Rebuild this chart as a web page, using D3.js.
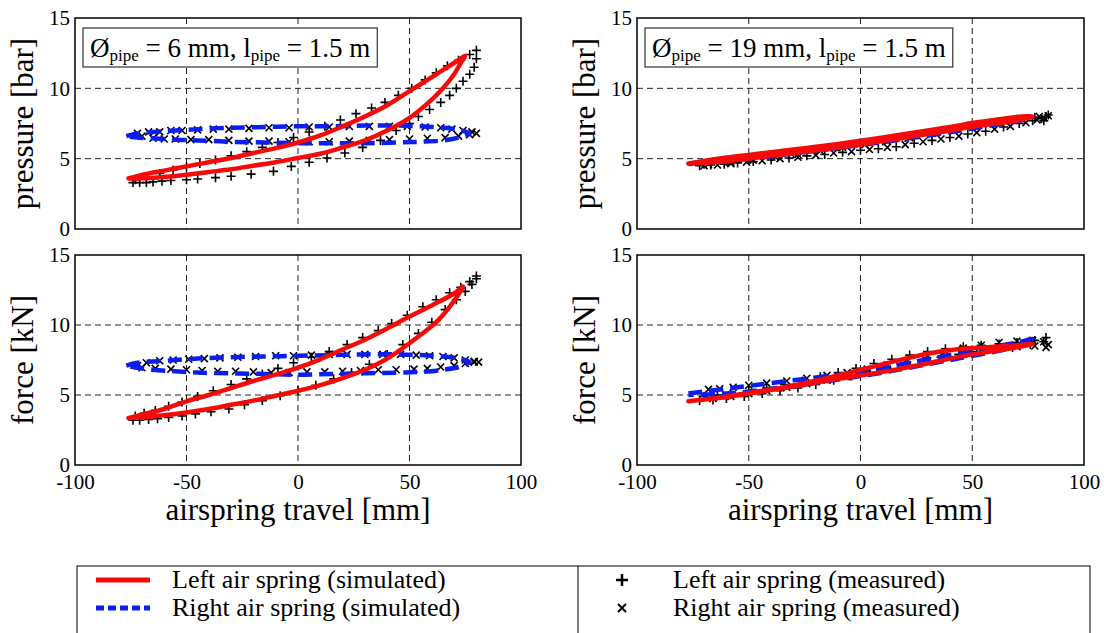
<!DOCTYPE html>
<html>
<head>
<meta charset="utf-8">
<script src="https://cdn.jsdelivr.net/npm/d3@7"></script>
<style>
  body { margin: 0; background: #fff; }
  svg { display: block; font-family: "Liberation Serif", "Times New Roman", serif; }
  svg text { font-family: "Liberation Serif", "Times New Roman", serif; }
</style>
</head>
<body>
<div id="chart"></div>
<script>
// axis ticks
const xTicks = [-100, -50, 0, 50, 100];
const yTicks = [0, 5, 10, 15];
const yLabels = ["pressure [bar]", "force [kN]"];
const pipeDiameters = ["6", "19"];
const legendLabels = ["Left air spring (simulated)", "Right air spring (simulated)",
                      "Left air spring (measured)", "Right air spring (measured)"];

// ---- 6 mm pipe, pressure ----
const p6LeftSimX = [-76,-70,-60,-50,-40,-30,-20,-10,0,10,20,30,40,50,60,70,75, 73,70,65,60,50,40,30,20,10,0,-10,-20,-30,-40,-50,-60,-70,-76];
const p6LeftSimY = [3.6,3.85,4.15,4.45,4.75,5.05,5.4,5.75,6.15,6.65,7.3,8.0,8.8,9.8,10.8,11.8,12.3, 11.8,11.0,10.0,9.2,7.9,7.0,6.3,5.8,5.35,5.05,4.75,4.5,4.25,4.05,3.85,3.7,3.6,3.6];
const p6RightSimX = [-77,-72,-65,-55,-45,-30,-15,0,15,30,45,55,65,72,77, 72,65,55,45,30,15,0,-15,-30,-45,-55,-65,-72,-77];
const p6RightSimY = [6.6,6.8,6.9,7.0,7.1,7.2,7.25,7.3,7.3,7.35,7.35,7.3,7.2,7.05,6.8, 6.5,6.3,6.2,6.15,6.1,6.1,6.1,6.15,6.2,6.3,6.35,6.45,6.5,6.6];
const p6LeftMeasX = [-73,-68,-62,-56,-50,-44,-37,-30,-23,-16,-9,-2,5,12,19,26,33,39,45,51,57,62,67,72,77,80,
                     -74,-71,-68,-65,-61,-57,-50,-45,-37,-30,-21,-11,-3,5,13,21,29,37,44,50,54,59,64,68,71,74,77,79,80];
const p6LeftMeasY = [3.5,3.7,3.95,4.2,4.4,4.65,4.9,5.2,5.5,5.8,6.15,6.5,6.9,7.3,7.75,8.2,8.6,9.0,9.5,10.0,10.6,11.1,11.6,12.0,12.4,12.7,
                     3.3,3.3,3.3,3.35,3.4,3.45,3.5,3.55,3.65,3.75,3.9,4.1,4.45,4.75,5.05,5.4,5.8,6.3,7.0,7.5,8.0,8.5,9.0,9.5,10.0,10.5,11.0,11.5,12.1];
const p6RightMeasX = [-72,-67,-62,-57,-52,-45,-38,-31,-22,-13,-4,5,14,23,32,41,49,57,64,69,74,78,80,
                      -70,-65,-60,-55,-48,-40,-31,-22,-13,-4,5,14,23,32,41,50,58,66,72,77];
const p6RightMeasY = [6.8,6.9,6.9,7.0,7.0,7.05,7.1,7.1,7.15,7.2,7.2,7.25,7.25,7.3,7.3,7.3,7.3,7.25,7.2,7.1,7.0,6.9,6.8,
                      6.6,6.45,6.4,6.4,6.35,6.35,6.3,6.25,6.25,6.2,6.2,6.2,6.25,6.3,6.35,6.4,6.45,6.5,6.6,6.7];

// ---- 6 mm pipe, force ----
const f6LeftSimX = [-76,-70,-60,-50,-40,-30,-20,-10,0,10,20,30,40,50,60,70,74, 72,68,62,55,50,40,30,20,10,0,-10,-20,-30,-40,-50,-60,-70,-76];
const f6LeftSimY = [3.35,3.6,4.0,4.55,5.0,5.5,6.0,6.45,6.95,7.55,8.25,8.95,9.75,10.6,11.4,12.25,12.75, 12.2,11.3,10.2,9.3,8.7,7.6,6.8,6.2,5.7,5.3,4.95,4.6,4.3,4.0,3.75,3.55,3.4,3.35];
const f6RightSimX = [-77,-72,-65,-55,-45,-30,-15,0,15,30,45,55,65,72,77, 72,65,55,45,30,15,0,-15,-30,-45,-55,-65,-72,-77];
const f6RightSimY = [7.1,7.3,7.4,7.5,7.6,7.7,7.75,7.8,7.85,7.9,7.9,7.85,7.75,7.6,7.35, 7.0,6.8,6.65,6.6,6.55,6.5,6.45,6.5,6.55,6.6,6.7,6.8,6.95,7.1];
const f6LeftMeasX = [-73,-69,-64,-58,-52,-45,-38,-30,-23,-16,-9,-2,6,14,22,29,36,42,49,56,62,68,73,77,80,
                     -74,-71,-67,-63,-58,-52,-46,-39,-31,-24,-16,-8,0,8,16,24,32,40,47,54,60,66,71,75,78,80];
const f6LeftMeasY = [3.5,3.7,3.9,4.2,4.5,4.9,5.3,5.75,6.15,6.5,6.9,7.3,7.7,8.1,8.6,9.1,9.6,10.1,10.7,11.3,11.8,12.3,12.7,13.1,13.5,
                     3.2,3.2,3.25,3.3,3.4,3.5,3.65,3.8,4.0,4.3,4.6,4.95,5.3,5.7,6.15,6.6,7.2,7.9,8.6,9.4,10.2,11.1,11.8,12.4,12.9,13.3];
const f6RightMeasX = [-72,-68,-62,-56,-49,-42,-35,-27,-19,-10,-2,6,14,22,30,38,46,53,59,65,70,75,79,81,
                      -70,-64,-57,-50,-43,-36,-28,-20,-12,-4,4,12,20,28,36,44,52,58,64,70,75,79];
const f6RightMeasY = [7.1,7.3,7.45,7.5,7.55,7.6,7.65,7.7,7.75,7.8,7.8,7.85,7.9,7.9,7.9,7.9,7.9,7.85,7.8,7.75,7.65,7.5,7.4,7.35,
                      6.95,6.9,6.85,6.8,6.75,6.7,6.7,6.65,6.6,6.6,6.65,6.65,6.7,6.75,6.8,6.8,6.85,6.9,7.0,7.1,7.25,7.35];

// ---- 19 mm pipe, pressure ----
const p19LeftSimX = [-77,-60,-50,-40,-25,-10,0,10,25,40,50,60,70,77, 70,60,50,40,25,10,0,-10,-25,-40,-50,-60,-77];
const p19LeftSimY = [4.65,5.08,5.27,5.46,5.75,6.05,6.27,6.51,6.88,7.25,7.53,7.75,7.96,8.0, 7.7,7.49,7.27,6.99,6.62,6.25,6.01,5.79,5.49,5.2,5.01,4.82,4.65];
const p19RightSimX = [-77,-60,-50,-40,-25,-10,0,10,25,40,50,60,70,77, 70,60,50,40,25,10,0,-10,-25,-40,-50,-60,-77];
const p19RightSimY = [4.62,5.02,5.2,5.38,5.66,5.95,6.15,6.37,6.7,7.05,7.32,7.58,7.85,7.98, 7.65,7.4,7.15,6.88,6.52,6.18,5.97,5.76,5.46,5.17,4.99,4.8,4.62];
const p19LeftMeasX = [-72,-67,-61,-55,-48,-40,-32,-24,-16,-8,0,8,16,24,32,40,48,56,64,71,77,81,83,82,84,
                      78,70,60,50,40,30,20,10,0,-10,-20,-30,-40,-50,-60,-70];
const p19LeftMeasY = [4.5,4.55,4.6,4.7,4.8,4.9,5.05,5.2,5.3,5.45,5.6,5.7,5.85,6.1,6.3,6.5,6.75,6.95,7.25,7.5,7.7,7.85,8.0,7.7,8.1,
                      7.95,7.8,7.55,7.3,7.05,6.75,6.5,6.25,6.05,5.85,5.6,5.35,5.15,4.95,4.8,4.6];
const p19RightMeasX = [-70,-64,-58,-51,-44,-36,-28,-20,-12,-4,4,12,20,28,36,44,52,60,67,74,79,82,84,
                       80,72,62,52,42,32,22,12,2,-8,-18,-28,-38,-48,-58,-68];
const p19RightMeasY = [4.5,4.55,4.65,4.75,4.85,5.0,5.1,5.25,5.4,5.5,5.65,5.8,6.0,6.2,6.4,6.6,6.85,7.1,7.3,7.55,7.75,7.9,8.05,
                       8.0,7.8,7.55,7.3,7.05,6.8,6.5,6.25,6.0,5.8,5.55,5.3,5.1,4.9,4.75,4.6];

// ---- 19 mm pipe, force ----
const f19LeftSimX = [-77,-60,-50,-40,-25,-10,0,10,20,30,40,50,60,70,77, 70,60,50,40,30,20,10,0,-10,-25,-40,-50,-60,-77];
const f19LeftSimY = [4.55,4.9,5.15,5.4,5.85,6.4,6.8,7.2,7.6,7.95,8.2,8.35,8.45,8.55,8.65, 8.4,8.15,7.9,7.6,7.25,6.95,6.65,6.4,6.15,5.75,5.35,5.1,4.85,4.55];
const f19RightSimX = [-77,-60,-50,-40,-25,-10,0,10,20,30,40,50,60,70,77, 70,60,50,40,30,20,10,0,-10,-25,-40,-50,-60,-77];
const f19RightSimY = [5.1,5.45,5.65,5.85,6.15,6.45,6.65,6.95,7.25,7.55,7.85,8.15,8.45,8.75,9.0, 8.5,8.1,7.8,7.5,7.2,6.9,6.6,6.35,6.1,5.75,5.45,5.25,5.1,5.0];
const f19LeftMeasX = [-70,-64,-58,-50,-42,-34,-26,-18,-10,-2,6,14,22,30,38,46,54,62,70,78,83,
                      -72,-66,-60,-52,-44,-36,-28,-20,-12,-4,4,12,20,28,36,44,52,60,68,76,82];
const f19LeftMeasY = [4.9,5.0,5.1,5.3,5.5,5.75,6.0,6.3,6.6,6.9,7.25,7.55,7.85,8.1,8.3,8.45,8.55,8.65,8.75,8.9,9.1,
                      4.6,4.65,4.75,4.9,5.1,5.3,5.5,5.75,6.05,6.35,6.6,6.9,7.2,7.45,7.7,7.9,8.1,8.25,8.4,8.6,8.8];
const f19RightMeasX = [-68,-63,-57,-50,-42,-33,-24,-15,-6,3,12,21,30,38,46,54,62,70,77,82,84,
                       -66,-58,-50,-42,-33,-24,-15,-6,3,12,21,30,38,46,54,62,70,78,83];
const f19RightMeasY = [5.4,5.45,5.55,5.7,5.85,6.0,6.2,6.4,6.6,6.85,7.15,7.45,7.8,8.1,8.35,8.55,8.75,8.85,8.9,8.8,8.6,
                       4.75,4.9,5.1,5.3,5.55,5.8,6.05,6.3,6.55,6.85,7.15,7.45,7.7,7.9,8.1,8.3,8.45,8.5,8.4];

const W = 1104, H = 633;
const svg = d3.select("#chart").append("svg")
  .attr("width", W).attr("height", H);
svg.append("rect").attr("width", W).attr("height", H).attr("fill", "#fff");

const zip = (xs, ys) => xs.map((x, i) => [x, ys[i]]);
const plusPath = "M-4.5,0H4.5M0,-4.5V4.5";
const crossPath = "M-3.5,-3.5L3.5,3.5M-3.5,3.5L3.5,-3.5";
const serif = '"Liberation Serif", "Times New Roman", serif';

function drawPanel(box, row, col, s) {
  const x = d3.scaleLinear().domain([-100, 100]).range([box.l, box.r]);
  const y = d3.scaleLinear().domain([0, 15]).range([box.b, box.t]);
  const g = svg.append("g");

  // grid
  g.selectAll(".gx").data(xTicks.slice(1, -1)).join("line")
    .attr("x1", d => x(d)).attr("x2", d => x(d))
    .attr("y1", box.t).attr("y2", box.b)
    .attr("stroke", "#222").attr("stroke-width", 1).attr("stroke-dasharray", "6,4");
  g.selectAll(".gy").data(yTicks.slice(1, -1)).join("line")
    .attr("x1", box.l).attr("x2", box.r)
    .attr("y1", d => y(d)).attr("y2", d => y(d))
    .attr("stroke", "#222").attr("stroke-width", 1).attr("stroke-dasharray", "6,4");

  // measured markers
  g.selectAll(".mp").data(zip(s.lmx, s.lmy)).join("path")
    .attr("d", plusPath).attr("transform", d => `translate(${x(d[0])},${y(d[1])})`)
    .attr("stroke", "#000").attr("stroke-width", 1.6).attr("fill", "none");
  g.selectAll(".mx").data(zip(s.rmx, s.rmy)).join("path")
    .attr("d", crossPath).attr("transform", d => `translate(${x(d[0])},${y(d[1])})`)
    .attr("stroke", "#000").attr("stroke-width", 1.6).attr("fill", "none");

  const line = d3.line().x(d => x(d[0])).y(d => y(d[1])).curve(d3.curveCatmullRom.alpha(0.5));

  // simulated
  g.append("path").attr("d", line(zip(s.rsx, s.rsy)))
    .attr("fill", "none").attr("stroke", "#0a1ef0").attr("stroke-width", 4.5)
    .attr("stroke-dasharray", "14,7");
  g.append("path").attr("d", line(zip(s.lsx, s.lsy)))
    .attr("fill", "none").attr("stroke", "#f50a0a").attr("stroke-width", 4.5)
    .attr("stroke-linejoin", "round").attr("stroke-linecap", "round");

  // frame
  g.append("rect").attr("x", box.l).attr("y", box.t)
    .attr("width", box.r - box.l).attr("height", box.b - box.t)
    .attr("fill", "none").attr("stroke", "#000").attr("stroke-width", 1.5);

  // axes
  const ay = g.append("g").attr("transform", `translate(${box.l},0)`)
    .call(d3.axisLeft(y).tickValues(yTicks).tickSize(0).tickPadding(5).tickFormat(d => String(d)));
  ay.attr("font-family", null).attr("font-size", null);
  ay.select(".domain").remove();
  ay.selectAll("text").style("font-size", "21px").style("font-family", serif).attr("fill", "#000");

  if (row === 1) {
    const ax = g.append("g").attr("transform", `translate(0,${box.b})`)
      .call(d3.axisBottom(x).tickValues(xTicks).tickSize(0).tickPadding(9).tickFormat(d => String(d)));
    ax.attr("font-family", null).attr("font-size", null);
    ax.select(".domain").remove();
    ax.selectAll("text").style("font-size", "21px").style("font-family", serif).attr("fill", "#000");

    g.append("text").attr("x", (box.l + box.r) / 2).attr("y", 520)
      .attr("text-anchor", "middle").style("font-size", "31px")
      .text("airspring travel [mm]");
  }

  g.append("text")
    .attr("transform", `translate(${box.l - 42},${(box.t + box.b) / 2}) rotate(-90)`)
    .attr("text-anchor", "middle").style("font-size", "31px")
    .text(yLabels[row]);

  if (row === 0) {
    const bx = box.l + 8, by = 28, bh = 39;
    const rect = g.append("rect").attr("x", bx).attr("y", by).attr("height", bh)
      .attr("fill", "#fff").attr("stroke", "#333").attr("stroke-width", 1.2);
    const t = g.append("text").attr("x", bx + 7).attr("y", 57).style("font-size", "27px");
    t.append("tspan").text("Ø");
    t.append("tspan").style("font-size", "17px").attr("dy", 4).text("pipe");
    t.append("tspan").attr("dy", -4).text(` = ${pipeDiameters[col]} mm, l`);
    t.append("tspan").style("font-size", "17px").attr("dy", 4).text("pipe");
    t.append("tspan").attr("dy", -4).text(" = 1.5 m");
    rect.attr("width", t.node().getComputedTextLength() + 14);
  }
}

const cols = [{l: 75, r: 521}, {l: 637, r: 1084}];
const rows = [{t: 18, b: 229}, {t: 255, b: 465}];
const series = [
  [{lsx: p6LeftSimX, lsy: p6LeftSimY, rsx: p6RightSimX, rsy: p6RightSimY,
    lmx: p6LeftMeasX, lmy: p6LeftMeasY, rmx: p6RightMeasX, rmy: p6RightMeasY},
   {lsx: p19LeftSimX, lsy: p19LeftSimY, rsx: p19RightSimX, rsy: p19RightSimY,
    lmx: p19LeftMeasX, lmy: p19LeftMeasY, rmx: p19RightMeasX, rmy: p19RightMeasY}],
  [{lsx: f6LeftSimX, lsy: f6LeftSimY, rsx: f6RightSimX, rsy: f6RightSimY,
    lmx: f6LeftMeasX, lmy: f6LeftMeasY, rmx: f6RightMeasX, rmy: f6RightMeasY},
   {lsx: f19LeftSimX, lsy: f19LeftSimY, rsx: f19RightSimX, rsy: f19RightSimY,
    lmx: f19LeftMeasX, lmy: f19LeftMeasY, rmx: f19RightMeasX, rmy: f19RightMeasY}]
];
rows.forEach((rw, ri) => cols.forEach((cl, ci) => {
  drawPanel({l: cl.l, r: cl.r, t: rw.t, b: rw.b}, ri, ci, series[ri][ci]);
}));

// legend
const lg = svg.append("g");
lg.append("rect").attr("x", 77).attr("y", 566).attr("width", 1013).attr("height", 90)
  .attr("fill", "#fff").attr("stroke", "#000").attr("stroke-width", 1);
lg.append("line").attr("x1", 578).attr("x2", 578).attr("y1", 566).attr("y2", 640)
  .attr("stroke", "#000").attr("stroke-width", 1);
lg.append("line").attr("x1", 96).attr("x2", 150).attr("y1", 580).attr("y2", 580)
  .attr("stroke", "#f50a0a").attr("stroke-width", 5);
lg.append("line").attr("x1", 96).attr("x2", 150).attr("y1", 608).attr("y2", 608)
  .attr("stroke", "#0a1ef0").attr("stroke-width", 5).attr("stroke-dasharray", "8,4");
lg.append("path").attr("d", "M-6,0H6M0,-6V6").attr("transform", "translate(622,580)")
  .attr("stroke", "#000").attr("stroke-width", 2.5);
lg.append("path").attr("d", "M-4,-4L4,4M-4,4L4,-4").attr("transform", "translate(622,608)")
  .attr("stroke", "#000").attr("stroke-width", 2);
[[172, 588], [172, 616], [673, 588], [673, 616]].forEach((p, i) => {
  lg.append("text").attr("x", p[0]).attr("y", p[1]).style("font-size", "26px").text(legendLabels[i]);
});
</script>
</body>
</html>
